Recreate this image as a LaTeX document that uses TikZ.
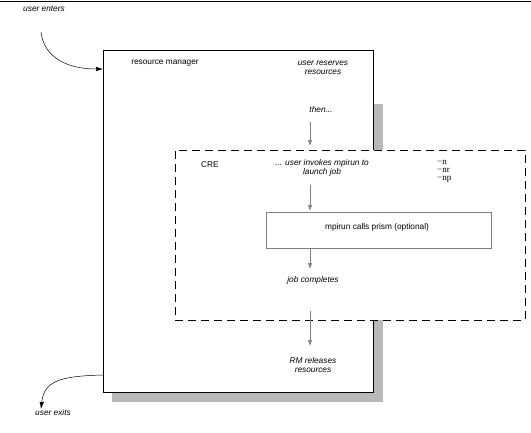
\documentclass[tikz,border=0pt]{standalone}
\usepackage{fontspec}
\setmainfont{Liberation Sans}
\newfontfamily\optfont{Liberation Serif}
\usetikzlibrary{arrows.meta}
\definecolor{shadowgray}{RGB}{185,185,185}
\definecolor{arrowgray}{RGB}{128,128,128}
\tikzset{
  txt/.style={inner sep=0pt, align=center, font=\fontsize{8.3}{8.5}\selectfont},
  itxt/.style={txt, font=\fontsize{8.3}{8.5}\selectfont\itshape},
  garrow/.style={draw=arrowgray, line width=0.7pt, -{Latex[length=6pt,width=4.5pt]}},
  barrow/.style={draw=black, line width=0.5pt, -{Latex[length=7pt,width=4.5pt]}},
  dashbox/.style={draw=black, line width=0.8pt, dash pattern=on 8pt off 5pt, fill=white},
}
\begin{document}
\begin{tikzpicture}[x=1pt,y=-1pt]
\useasboundingbox (0,0) rectangle (531,432);
% top rule
\draw[line width=1pt] (0,1) -- (531,1);
% shadow
\fill[shadowgray] (112,104) rectangle (383,402);
% resource manager box
\node[draw=black, line width=0.8pt, fill=white, minimum width=270pt, minimum height=342pt, inner sep=0pt] (rm) at (238,221) {};
% CRE dashed box
\node[dashbox, minimum width=350pt, minimum height=170pt, inner sep=0pt] (cre) at (350,235) {};
% inner box
\node[draw=arrowgray, line width=0.7pt, fill=white, minimum width=225pt, minimum height=36pt, inner sep=0pt] (prism) at (378.5,230) {};
\node[txt] (prismtxt) at (377,227) {mpirun calls prism (optional)};
% texts
\node[itxt] (enters) at (44,9) {user enters};
\node[txt] (rmtxt) at (165,63) {resource manager};
\node[itxt] (reserve) at (323,68) {user reserves\\resources};
\node[itxt] (then) at (321,110) {then...};
\node[txt] (cretxt) at (210,165) {CRE};
\node[itxt] (invoke) at (322,168) {... user invokes mpirun to\\launch job};
\node[txt, align=left, anchor=north west, font=\fontsize{9}{8}\selectfont\optfont] (opts) at (437,160) {−n\\−nr\\−np};
\node[itxt] (complete) at (313,280) {job completes};
\node[itxt] (release) at (313,365) {RM releases\\resources};
\node[itxt] (exits) at (53,413) {user exits};
% arrow end points
\coordinate (a1s) at (310,122);
\coordinate (a1e) at (310,146);
\coordinate (a2s) at (310,185);
\coordinate (a2e) at (310,211);
\coordinate (a3e) at (310,269);
\coordinate (a4s) at (310,311);
\coordinate (a4e) at (310,346);
\draw[garrow] (a1s) -- (a1e);
\draw[garrow] (a2s) -- (a2e);
\draw[garrow] (prism.south -| a3e) -- (a3e);
\draw[garrow] (a4s) -- (a4e);
% user enters / exits curves
\coordinate (ins) at (41,32);
\coordinate (inend) at (103,69);
\draw[barrow] (ins) .. controls (44,58) and (68,69) .. (inend);
\coordinate (outs) at (103,375);
\coordinate (outend) at (41,409);
\draw[barrow] (outs) .. controls (58,376) and (44,382) .. (outend);
\end{tikzpicture}
\end{document}
